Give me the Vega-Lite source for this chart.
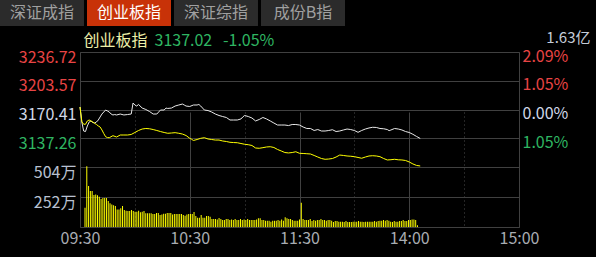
{
  "$schema": "https://vega.github.io/schema/vega-lite/v6.json",
  "autosize": "none",
  "width": 439,
  "height": 175,
  "padding": {"left": 80, "top": 52, "right": 77, "bottom": 30},
  "background": "#000000",
  "config": {
    "view": {"stroke": "#404040", "strokeWidth": 1},
    "font": "Noto Sans CJK SC"
  },
  "datasets": {
    "tabs": [
      {"tab": "深证成指", "selected": "no", "row": "bar"},
      {"tab": "创业板指", "selected": "yes", "row": "bar"},
      {"tab": "深证综指", "selected": "no", "row": "bar"},
      {"tab": "成份B指", "selected": "no", "row": "bar"}
    ],
    "index": [
      {"m": 0, "price": 3173.3}, {"m": 1, "price": 3156.0}, {"m": 2, "price": 3145.6}, {"m": 3, "price": 3145.0},
      {"m": 4, "price": 3151.4}, {"m": 5, "price": 3156.0}, {"m": 6, "price": 3157.2}, {"m": 7, "price": 3155.4},
      {"m": 8, "price": 3154.8}, {"m": 9, "price": 3156.0}, {"m": 10, "price": 3158.3}, {"m": 11, "price": 3161.8},
      {"m": 12, "price": 3165.2}, {"m": 13, "price": 3167.5}, {"m": 14, "price": 3169.8}, {"m": 15, "price": 3168.7},
      {"m": 16, "price": 3167.5}, {"m": 17, "price": 3165.2}, {"m": 18, "price": 3164.1}, {"m": 19, "price": 3164.6},
      {"m": 20, "price": 3164.1}, {"m": 22, "price": 3165.2}, {"m": 24, "price": 3164.1}, {"m": 26, "price": 3164.6},
      {"m": 28, "price": 3165.2}, {"m": 29, "price": 3177.9}, {"m": 30, "price": 3175.6}, {"m": 31, "price": 3174.4},
      {"m": 32, "price": 3176.2}, {"m": 34, "price": 3172.1}, {"m": 36, "price": 3170.4}, {"m": 38, "price": 3168.1},
      {"m": 40, "price": 3165.2}, {"m": 42, "price": 3165.2}, {"m": 43, "price": 3167.5}, {"m": 44, "price": 3169.8},
      {"m": 46, "price": 3169.8}, {"m": 47, "price": 3172.1}, {"m": 48, "price": 3171.6}, {"m": 50, "price": 3172.1},
      {"m": 52, "price": 3174.4}, {"m": 54, "price": 3175.6}, {"m": 56, "price": 3176.7}, {"m": 57, "price": 3175.6},
      {"m": 58, "price": 3174.4}, {"m": 60, "price": 3173.9}, {"m": 62, "price": 3175.6}, {"m": 64, "price": 3175.6},
      {"m": 65, "price": 3176.2}, {"m": 66, "price": 3174.4}, {"m": 68, "price": 3169.8}, {"m": 70, "price": 3169.2},
      {"m": 72, "price": 3167.5}, {"m": 74, "price": 3165.2}, {"m": 76, "price": 3163.5}, {"m": 78, "price": 3162.3},
      {"m": 80, "price": 3161.2}, {"m": 82, "price": 3158.3}, {"m": 84, "price": 3158.3}, {"m": 86, "price": 3158.3},
      {"m": 88, "price": 3159.5}, {"m": 89, "price": 3161.8}, {"m": 90, "price": 3163.5}, {"m": 92, "price": 3162.3},
      {"m": 94, "price": 3160.6}, {"m": 96, "price": 3157.2}, {"m": 98, "price": 3158.9}, {"m": 100, "price": 3161.2},
      {"m": 102, "price": 3159.5}, {"m": 104, "price": 3157.2}, {"m": 106, "price": 3154.8}, {"m": 108, "price": 3152.5},
      {"m": 110, "price": 3152.5}, {"m": 112, "price": 3152.5}, {"m": 114, "price": 3151.9}, {"m": 116, "price": 3153.1},
      {"m": 118, "price": 3153.1}, {"m": 120, "price": 3152.5}, {"m": 122, "price": 3150.2}, {"m": 124, "price": 3148.5},
      {"m": 126, "price": 3148.5}, {"m": 128, "price": 3146.2}, {"m": 130, "price": 3147.3}, {"m": 132, "price": 3145.6},
      {"m": 134, "price": 3145.6}, {"m": 136, "price": 3146.2}, {"m": 138, "price": 3147.1}, {"m": 140, "price": 3145.0},
      {"m": 142, "price": 3145.6}, {"m": 144, "price": 3146.8}, {"m": 146, "price": 3147.9}, {"m": 148, "price": 3147.3},
      {"m": 150, "price": 3146.2}, {"m": 152, "price": 3144.1}, {"m": 154, "price": 3146.2}, {"m": 156, "price": 3147.9},
      {"m": 158, "price": 3149.1}, {"m": 160, "price": 3149.9}, {"m": 162, "price": 3149.7}, {"m": 164, "price": 3148.5},
      {"m": 166, "price": 3148.2}, {"m": 168, "price": 3147.3}, {"m": 169, "price": 3146.0}, {"m": 170, "price": 3146.8},
      {"m": 172, "price": 3148.5}, {"m": 174, "price": 3147.9}, {"m": 176, "price": 3146.8}, {"m": 178, "price": 3145.0},
      {"m": 180, "price": 3143.9}, {"m": 182, "price": 3141.8}, {"m": 184, "price": 3139.3}, {"m": 186, "price": 3137.02}
    ],
    "avg": [
      {"m": 0, "price": 3173.3}, {"m": 1, "price": 3156.3}, {"m": 2, "price": 3153.4}, {"m": 3, "price": 3153.4},
      {"m": 4, "price": 3157.2}, {"m": 5, "price": 3158.3}, {"m": 6, "price": 3157.2}, {"m": 7, "price": 3156.0},
      {"m": 8, "price": 3154.5}, {"m": 9, "price": 3153.1}, {"m": 10, "price": 3151.4}, {"m": 11, "price": 3150.2},
      {"m": 12, "price": 3146.8}, {"m": 13, "price": 3142.7}, {"m": 14, "price": 3139.0}, {"m": 15, "price": 3138.1},
      {"m": 16, "price": 3137.9}, {"m": 18, "price": 3140.2}, {"m": 20, "price": 3138.7}, {"m": 22, "price": 3141.0},
      {"m": 24, "price": 3141.0}, {"m": 26, "price": 3141.0}, {"m": 28, "price": 3141.6}, {"m": 30, "price": 3143.9},
      {"m": 32, "price": 3146.2}, {"m": 34, "price": 3147.9}, {"m": 36, "price": 3148.5}, {"m": 38, "price": 3148.2},
      {"m": 40, "price": 3147.3}, {"m": 42, "price": 3146.2}, {"m": 44, "price": 3145.0}, {"m": 46, "price": 3143.9},
      {"m": 48, "price": 3143.0}, {"m": 50, "price": 3143.3}, {"m": 52, "price": 3143.7}, {"m": 54, "price": 3143.0},
      {"m": 56, "price": 3142.1}, {"m": 58, "price": 3140.4}, {"m": 60, "price": 3137.2}, {"m": 61, "price": 3136.1},
      {"m": 62, "price": 3134.7}, {"m": 64, "price": 3135.8}, {"m": 66, "price": 3137.2}, {"m": 68, "price": 3137.9},
      {"m": 70, "price": 3136.4}, {"m": 72, "price": 3135.8}, {"m": 74, "price": 3135.2}, {"m": 76, "price": 3135.2},
      {"m": 78, "price": 3134.1}, {"m": 80, "price": 3133.5}, {"m": 82, "price": 3132.6}, {"m": 84, "price": 3132.3},
      {"m": 86, "price": 3132.1}, {"m": 88, "price": 3131.2}, {"m": 90, "price": 3130.3}, {"m": 92, "price": 3129.8},
      {"m": 94, "price": 3128.9}, {"m": 96, "price": 3126.0}, {"m": 98, "price": 3125.7}, {"m": 100, "price": 3126.4},
      {"m": 102, "price": 3127.2}, {"m": 104, "price": 3127.5}, {"m": 106, "price": 3126.6}, {"m": 108, "price": 3124.3},
      {"m": 110, "price": 3122.6}, {"m": 112, "price": 3120.8}, {"m": 114, "price": 3120.3}, {"m": 116, "price": 3120.8},
      {"m": 118, "price": 3121.7}, {"m": 120, "price": 3119.9}, {"m": 122, "price": 3119.7}, {"m": 124, "price": 3119.4},
      {"m": 126, "price": 3119.1}, {"m": 128, "price": 3117.4}, {"m": 130, "price": 3115.6}, {"m": 132, "price": 3113.9},
      {"m": 134, "price": 3113.0}, {"m": 136, "price": 3113.3}, {"m": 138, "price": 3113.9}, {"m": 140, "price": 3115.6},
      {"m": 142, "price": 3117.9}, {"m": 144, "price": 3117.4}, {"m": 146, "price": 3116.8}, {"m": 148, "price": 3116.5},
      {"m": 150, "price": 3116.0}, {"m": 152, "price": 3115.1}, {"m": 154, "price": 3114.2}, {"m": 156, "price": 3115.6},
      {"m": 158, "price": 3116.8}, {"m": 160, "price": 3117.1}, {"m": 162, "price": 3116.8}, {"m": 164, "price": 3116.0},
      {"m": 166, "price": 3113.9}, {"m": 168, "price": 3112.2}, {"m": 170, "price": 3112.5}, {"m": 172, "price": 3113.0},
      {"m": 174, "price": 3112.4}, {"m": 176, "price": 3112.2}, {"m": 178, "price": 3111.6}, {"m": 180, "price": 3109.9},
      {"m": 182, "price": 3107.6}, {"m": 184, "price": 3105.9}, {"m": 186, "price": 3105.3}
    ],
    "volume": [
      {"m": 0, "vol": 162}, {"m": 1, "vol": 510}, {"m": 2, "vol": 344}, {"m": 3, "vol": 302}, {"m": 4, "vol": 302},
      {"m": 5, "vol": 269}, {"m": 6, "vol": 272}, {"m": 7, "vol": 266}, {"m": 8, "vol": 255}, {"m": 9, "vol": 235},
      {"m": 10, "vol": 244}, {"m": 11, "vol": 244}, {"m": 12, "vol": 244}, {"m": 13, "vol": 218}, {"m": 14, "vol": 199},
      {"m": 15, "vol": 190}, {"m": 16, "vol": 182}, {"m": 17, "vol": 176}, {"m": 18, "vol": 148}, {"m": 19, "vol": 148},
      {"m": 20, "vol": 157}, {"m": 21, "vol": 176}, {"m": 22, "vol": 143}, {"m": 23, "vol": 137}, {"m": 24, "vol": 134},
      {"m": 25, "vol": 134}, {"m": 26, "vol": 143}, {"m": 27, "vol": 134}, {"m": 28, "vol": 129}, {"m": 29, "vol": 129},
      {"m": 30, "vol": 137}, {"m": 31, "vol": 123}, {"m": 32, "vol": 129}, {"m": 33, "vol": 134}, {"m": 34, "vol": 115},
      {"m": 35, "vol": 115}, {"m": 36, "vol": 115}, {"m": 37, "vol": 115}, {"m": 38, "vol": 109}, {"m": 39, "vol": 109},
      {"m": 40, "vol": 118}, {"m": 41, "vol": 118}, {"m": 42, "vol": 101}, {"m": 43, "vol": 106}, {"m": 44, "vol": 112},
      {"m": 45, "vol": 112}, {"m": 46, "vol": 118}, {"m": 47, "vol": 118}, {"m": 48, "vol": 118}, {"m": 49, "vol": 104},
      {"m": 50, "vol": 109}, {"m": 51, "vol": 109}, {"m": 52, "vol": 109}, {"m": 53, "vol": 109}, {"m": 54, "vol": 109},
      {"m": 55, "vol": 101}, {"m": 56, "vol": 95}, {"m": 57, "vol": 104}, {"m": 58, "vol": 109}, {"m": 59, "vol": 109},
      {"m": 60, "vol": 109}, {"m": 61, "vol": 126}, {"m": 62, "vol": 92}, {"m": 63, "vol": 78}, {"m": 64, "vol": 78},
      {"m": 65, "vol": 101}, {"m": 66, "vol": 78}, {"m": 67, "vol": 78}, {"m": 68, "vol": 92}, {"m": 69, "vol": 92},
      {"m": 70, "vol": 87}, {"m": 71, "vol": 67}, {"m": 72, "vol": 67}, {"m": 73, "vol": 67}, {"m": 74, "vol": 62},
      {"m": 75, "vol": 76}, {"m": 76, "vol": 67}, {"m": 77, "vol": 59}, {"m": 78, "vol": 59}, {"m": 79, "vol": 67},
      {"m": 80, "vol": 67}, {"m": 81, "vol": 59}, {"m": 82, "vol": 62}, {"m": 83, "vol": 59}, {"m": 84, "vol": 67},
      {"m": 85, "vol": 59}, {"m": 86, "vol": 59}, {"m": 87, "vol": 67}, {"m": 88, "vol": 59}, {"m": 89, "vol": 64},
      {"m": 90, "vol": 59}, {"m": 91, "vol": 67}, {"m": 92, "vol": 59}, {"m": 93, "vol": 59}, {"m": 94, "vol": 59},
      {"m": 95, "vol": 59}, {"m": 96, "vol": 64}, {"m": 97, "vol": 73}, {"m": 98, "vol": 73}, {"m": 99, "vol": 59},
      {"m": 100, "vol": 59}, {"m": 101, "vol": 53}, {"m": 102, "vol": 53}, {"m": 103, "vol": 53}, {"m": 104, "vol": 45},
      {"m": 105, "vol": 53}, {"m": 106, "vol": 53}, {"m": 107, "vol": 53}, {"m": 108, "vol": 59}, {"m": 109, "vol": 53},
      {"m": 110, "vol": 64}, {"m": 111, "vol": 53}, {"m": 112, "vol": 81}, {"m": 113, "vol": 73}, {"m": 114, "vol": 67},
      {"m": 115, "vol": 67}, {"m": 116, "vol": 59}, {"m": 117, "vol": 53}, {"m": 118, "vol": 53}, {"m": 119, "vol": 53},
      {"m": 120, "vol": 64}, {"m": 121, "vol": 204}, {"m": 122, "vol": 67}, {"m": 123, "vol": 59}, {"m": 124, "vol": 59},
      {"m": 125, "vol": 59}, {"m": 126, "vol": 67}, {"m": 127, "vol": 50}, {"m": 128, "vol": 59}, {"m": 129, "vol": 53},
      {"m": 130, "vol": 59}, {"m": 131, "vol": 59}, {"m": 132, "vol": 67}, {"m": 133, "vol": 59}, {"m": 134, "vol": 59},
      {"m": 135, "vol": 53}, {"m": 136, "vol": 59}, {"m": 137, "vol": 59}, {"m": 138, "vol": 53}, {"m": 139, "vol": 42},
      {"m": 140, "vol": 50}, {"m": 141, "vol": 50}, {"m": 142, "vol": 45}, {"m": 143, "vol": 45}, {"m": 144, "vol": 45},
      {"m": 145, "vol": 42}, {"m": 146, "vol": 50}, {"m": 147, "vol": 42}, {"m": 148, "vol": 42}, {"m": 149, "vol": 42},
      {"m": 150, "vol": 45}, {"m": 151, "vol": 45}, {"m": 152, "vol": 45}, {"m": 153, "vol": 50}, {"m": 154, "vol": 45},
      {"m": 155, "vol": 45}, {"m": 156, "vol": 42}, {"m": 157, "vol": 45}, {"m": 158, "vol": 45}, {"m": 159, "vol": 45},
      {"m": 160, "vol": 45}, {"m": 161, "vol": 45}, {"m": 162, "vol": 50}, {"m": 163, "vol": 45}, {"m": 164, "vol": 50},
      {"m": 165, "vol": 53}, {"m": 166, "vol": 53}, {"m": 167, "vol": 59}, {"m": 168, "vol": 53}, {"m": 169, "vol": 59},
      {"m": 170, "vol": 53}, {"m": 171, "vol": 45}, {"m": 172, "vol": 42}, {"m": 173, "vol": 50}, {"m": 174, "vol": 45},
      {"m": 175, "vol": 45}, {"m": 176, "vol": 50}, {"m": 177, "vol": 50}, {"m": 178, "vol": 59}, {"m": 179, "vol": 50},
      {"m": 180, "vol": 50}, {"m": 181, "vol": 59}, {"m": 182, "vol": 59}, {"m": 183, "vol": 64}, {"m": 184, "vol": 64},
      {"m": 185, "vol": 59}, {"m": 186, "vol": 14}
    ]
  },
  "resolve": {
    "scale": {"x": "independent", "y": "independent"},
    "axis": {"x": "independent", "y": "independent"}
  },
  "layer": [
    {
      "data": {"name": "tabs"},
      "layer": [
        {
          "mark": {"type": "rect"},
          "encoding": {
            "x": {"field": "tab", "type": "nominal", "sort": null, "scale": {"type": "band", "range": [-80, 265], "paddingInner": 0.0345, "paddingOuter": 0}, "axis": null},
            "y": {"field": "row", "type": "nominal", "scale": {"type": "band", "range": [-52, -26], "paddingInner": 0, "paddingOuter": 0}, "axis": null},
            "color": {"condition": {"test": "datum.selected === 'yes'", "value": "#c83208"}, "value": "#2b2b2b"}
          }
        },
        {
          "mark": {"type": "text", "fontSize": 16, "baseline": "middle", "align": "center"},
          "encoding": {
            "x": {"field": "tab", "type": "nominal", "sort": null, "scale": {"type": "band", "range": [-80, 265], "paddingInner": 0.0345, "paddingOuter": 0}, "axis": null},
            "y": {"field": "row", "type": "nominal", "scale": {"type": "band", "range": [-52, -26], "paddingInner": 0, "paddingOuter": 0}, "axis": null},
            "text": {"field": "tab"},
            "color": {"condition": {"test": "datum.selected === 'yes'", "value": "#ffffff"}, "value": "#a0a0a0"}
          }
        }
      ]
    },
    {
      "data": {"name": "index"},
      "mark": {"type": "line", "color": "#e8e8e8", "strokeWidth": 1},
      "encoding": {
        "x": {
          "field": "m", "type": "quantitative",
          "scale": {"domain": [0, 240], "nice": false, "zero": false},
          "axis": {
            "orient": "bottom", "values": [0, 60, 120, 180, 240],
            "labelExpr": "datum.value == 0 ? '09:30' : datum.value == 60 ? '10:30' : datum.value == 120 ? '11:30' : datum.value == 180 ? '14:00' : '15:00'",
            "grid": true, "gridColor": "#404040", "domain": false, "ticks": false,
            "labelPadding": 3, "labelFontSize": 16, "labelColor": "#a8acb2",
            "labelFlush": false, "labelOverlap": false, "title": null
          }
        },
        "y": {
          "field": "price", "type": "quantitative",
          "scale": {"domain": [3104.1, 3236.72], "range": [115, 0], "nice": false, "zero": false},
          "axis": {
            "orient": "left", "values": [3236.72, 3203.57, 3170.41, 3137.26],
            "labelExpr": "format(datum.value, '.2f')",
            "grid": true, "gridColor": "#404040", "domain": false, "ticks": false,
            "labelPadding": 4, "labelFontSize": 16, "labelOffset": 5,
            "labelColor": {"condition": [{"test": "datum.value > 3171", "value": "#e84444"}, {"test": "datum.value < 3169", "value": "#2fb562"}], "value": "#d0d8e8"},
            "title": "创业板指", "titleAngle": 0, "titleX": 3, "titleY": -12, "titleAlign": "left", "titleBaseline": "middle",
            "titleColor": "#eeeea8", "titleFontSize": 16, "titleFontWeight": "normal"
          }
        }
      }
    },
    {
      "data": {"name": "avg"},
      "mark": {"type": "line", "color": "#ffff00", "strokeWidth": 1},
      "encoding": {
        "x": {
          "field": "m", "type": "quantitative",
          "scale": {"domain": [0, 240], "nice": false, "zero": false},
          "axis": {
            "orient": "bottom", "values": [30, 90, 150, 210],
            "labels": false, "ticks": false, "domain": false,
            "grid": true, "gridColor": "#4a4a4a", "gridDash": [1, 3], "title": null
          }
        },
        "y": {
          "field": "price", "type": "quantitative",
          "scale": {"domain": [3104.1, 3236.72], "range": [115, 0], "nice": false, "zero": false},
          "axis": {
            "orient": "right", "values": [3236.72, 3203.57, 3170.41, 3137.26],
            "labelExpr": "format(abs(datum.value - 3170.41) / 3170.41 * 100, '.2f') + '%'",
            "grid": false, "domain": false, "ticks": false,
            "labelPadding": 3, "labelFontSize": 16, "labelOffset": 4,
            "labelColor": {"condition": [{"test": "datum.value > 3171", "value": "#e84444"}, {"test": "datum.value < 3169", "value": "#2fb562"}], "value": "#d0d8e8"},
            "title": "1.63亿", "titleAngle": 0, "titleX": 71, "titleY": -15, "titleAlign": "right", "titleBaseline": "middle",
            "titleColor": "#c4ccd8", "titleFontSize": 15, "titleFontWeight": "normal"
          }
        }
      }
    },
    {
      "data": {"name": "volume"},
      "mark": {"type": "bar", "color": "#ffff00", "size": 1, "orient": "vertical"},
      "encoding": {
        "x": {
          "field": "m", "type": "quantitative",
          "scale": {"domain": [0, 240], "nice": false, "zero": false},
          "axis": null
        },
        "y": {
          "field": "vol", "type": "quantitative",
          "scale": {"domain": [0, 504], "range": [175, 115], "nice": false},
          "axis": {
            "orient": "left", "values": [504, 252],
            "labelExpr": "datum.value + '万'",
            "grid": true, "gridColor": "#404040", "domain": false, "ticks": false,
            "labelPadding": 4, "labelFontSize": 16, "labelOffset": 5, "labelColor": "#b8c0d0",
            "title": "3137.02\u00a0\u00a0\u00a0-1.05%", "titleAngle": 0, "titleX": 74, "titleY": -12, "titleAlign": "left", "titleBaseline": "middle",
            "titleColor": "#2fb562", "titleFontSize": 16, "titleFontWeight": "normal"
          }
        }
      }
    }
  ]
}
